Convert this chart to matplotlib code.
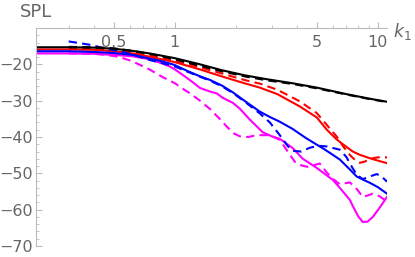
import matplotlib
matplotlib.use('Agg')
import matplotlib.pyplot as plt
import numpy as np

# black
k_black = [0.207, 0.3, 0.4, 0.5, 0.62, 0.75, 1.0, 1.33, 1.7, 2.2, 2.84, 3.8, 5.0, 7.0, 9.0, 11.1]
spl_black = [-15.3, -15.3, -15.4, -15.7, -16.3, -17.0, -18.3, -20.0, -21.6, -23.0, -24.1, -25.2, -26.4, -28.2, -29.4, -30.3]
k_black_d = [0.3, 0.4, 0.5, 0.62, 0.75, 1.0, 1.33, 1.7, 2.2, 2.84, 3.8, 5.0, 7.0, 9.0, 11.1]
spl_black_d = [-15.2, -15.3, -15.6, -16.3, -17.1, -18.6, -20.4, -21.9, -23.3, -24.4, -25.4, -26.6, -28.3, -29.5, -30.4]

# red
k_red = [0.207, 0.3, 0.4, 0.5, 0.62, 0.75, 1.0, 1.33, 1.7, 2.2, 2.62, 3.2, 4.13, 5.0, 5.61, 6.28, 6.73, 7.53, 8.15, 9.2, 10.0, 11.1]
spl_red = [-15.9, -15.9, -16.0, -16.4, -17.0, -17.9, -19.4, -21.4, -23.3, -25.2, -26.4, -28.2, -31.6, -34.6, -38.0, -40.7, -42.0, -44.0, -44.9, -45.9, -46.5, -47.2]
k_red_d = [0.3, 0.4, 0.5, 0.62, 0.75, 1.0, 1.33, 1.7, 2.2, 2.62, 3.2, 4.13, 5.0, 5.61, 6.28, 6.73, 7.3, 7.88, 8.15, 8.6, 9.13, 10.0, 11.1]
spl_red_d = [-15.6, -15.8, -16.2, -16.8, -17.6, -19.0, -20.8, -22.5, -24.3, -25.3, -27.0, -30.2, -33.4, -36.7, -39.9, -42.5, -45.0, -46.8, -47.1, -46.8, -46.0, -45.6, -45.6]

# blue
k_blue = [0.207, 0.3, 0.4, 0.5, 0.62, 0.75, 0.87, 1.0, 1.15, 1.33, 1.49, 1.7, 1.93, 2.2, 2.62, 2.94, 3.29, 3.81, 4.4, 5.0, 5.5, 6.5, 7.3, 7.88, 8.5, 9.13, 10.0, 11.1]
spl_blue = [-16.4, -16.4, -16.6, -16.9, -17.4, -18.4, -19.2, -20.2, -21.8, -23.3, -24.3, -25.8, -27.7, -30.0, -33.0, -34.5, -35.8, -37.8, -40.2, -42.1, -43.5, -46.2, -49.0, -50.9, -51.8, -52.6, -53.8, -55.6]
k_blue_d = [0.3, 0.38, 0.46, 0.55, 0.62, 0.75, 0.87, 1.0, 1.15, 1.33, 1.49, 1.7, 1.93, 2.2, 2.62, 2.94, 3.29, 3.6, 3.81, 4.2, 4.6, 5.06, 5.6, 6.5, 7.0, 7.5, 7.88, 8.43, 9.0, 9.89, 10.5, 11.1]
spl_blue_d = [-13.7, -14.6, -15.7, -16.6, -17.3, -18.8, -19.7, -20.6, -22.0, -23.4, -24.5, -26.0, -27.9, -30.2, -33.5, -36.0, -39.5, -42.5, -43.8, -44.0, -43.0, -42.4, -42.6, -43.5, -45.5, -48.5, -50.4, -51.6, -51.0, -50.2, -51.0, -52.3]

# magenta
k_mag = [0.207, 0.3, 0.4, 0.5, 0.62, 0.75, 0.87, 0.945, 1.0, 1.1, 1.23, 1.33, 1.49, 1.61, 1.72, 1.93, 2.09, 2.34, 2.71, 3.0, 3.29, 3.8, 4.27, 5.0, 6.0, 6.5, 7.28, 7.53, 8.0, 8.43, 8.9, 9.45, 10.2, 11.1]
spl_mag = [-17.0, -17.0, -17.1, -17.4, -17.8, -18.6, -19.8, -20.6, -21.4, -23.0, -25.0, -26.5, -27.5, -28.0, -29.2, -30.6, -32.2, -35.2, -38.7, -39.8, -40.5, -43.0, -46.0, -48.5, -51.8, -54.0, -57.3, -59.0, -61.8, -63.4, -63.3, -62.0, -59.5, -56.5]
k_mag_d = [0.3, 0.4, 0.46, 0.536, 0.62, 0.75, 0.87, 1.0, 1.1, 1.19, 1.33, 1.49, 1.65, 1.8, 1.95, 2.09, 2.3, 2.53, 2.94, 3.29, 3.6, 3.9, 4.2, 4.47, 4.8, 5.18, 5.61, 6.0, 6.5, 7.28, 7.8, 8.43, 9.0, 9.45, 10.2, 11.1]
spl_mag_d = [-17.0, -17.1, -17.4, -18.0, -19.2, -21.4, -23.5, -25.2, -26.8, -28.0, -30.0, -32.3, -34.8, -37.1, -39.0, -39.8, -40.0, -39.5, -39.5, -40.8, -44.0, -46.8, -47.8, -48.2, -47.8, -47.3, -49.8, -51.5, -53.0, -52.5, -54.0, -56.5, -56.0, -55.6, -56.3, -57.8]

x_major = [0.5, 1, 5, 10]
x_labels = ['0.5', '1', '5', '10']
y_major = [-70, -60, -50, -40, -30, -20]

fig = plt.figure(figsize=(4.15, 2.57), dpi=100)
ax = fig.add_axes([36 / 415, 11 / 257, 351 / 415, 218 / 257])

lw = 1.5
dash = (0, (4, 2.5))
ax.plot(k_mag, spl_mag, color='#ff00ff', lw=lw)
ax.plot(k_mag_d, spl_mag_d, color='#ff00ff', lw=lw, ls=dash)
ax.plot(k_red, spl_red, color='#ff0000', lw=lw)
ax.plot(k_red_d, spl_red_d, color='#ff0000', lw=lw, ls=dash)
ax.plot(k_blue, spl_blue, color='#0000ff', lw=lw)
ax.plot(k_blue_d, spl_blue_d, color='#0000ff', lw=lw, ls=dash)
ax.plot(k_black, spl_black, color='black', lw=lw)
ax.plot(k_black_d, spl_black_d, color='black', lw=lw, ls=dash)

ax.set_xscale('log')
ax.set_xlim(0.207, 11.1)
ax.set_ylim(-70, -10)

ax.spines['top'].set_visible(False)
ax.spines['right'].set_visible(False)
ax.spines['bottom'].set_position(('data', -10))
for s in ('left', 'bottom'):
    ax.spines[s].set_color('#bbbbbb')
    ax.spines[s].set_linewidth(0.8)

ax.set_xticks(x_major)
ax.set_xticklabels(x_labels)
ax.set_xticks([0.3, 0.4, 0.6, 0.7, 0.8, 0.9, 2, 3, 4, 6, 7, 8, 9], minor=True)
ax.xaxis.set_minor_formatter(matplotlib.ticker.NullFormatter())
ax.set_yticks(y_major)
ax.set_yticks(np.arange(-70, -9, 2), minor=True)

ax.tick_params(which='both', direction='in', color='#bbbbbb', labelcolor='#666666', labelsize=11.5)
ax.tick_params(axis='x', which='major', length=4, pad=5)
ax.tick_params(axis='x', which='minor', length=2)
ax.tick_params(axis='y', which='major', length=4, pad=2)
ax.tick_params(axis='y', which='minor', length=2)

fig.text(36 / 415, 1 - 12 / 257, 'SPL', ha='center', va='center', color='#666666', fontsize=13)
fig.text(393 / 415, 1 - 32 / 257, r'$k_1$', ha='left', va='center', color='#666666', fontsize=12.5)

fig.savefig('out.png', dpi=100)
